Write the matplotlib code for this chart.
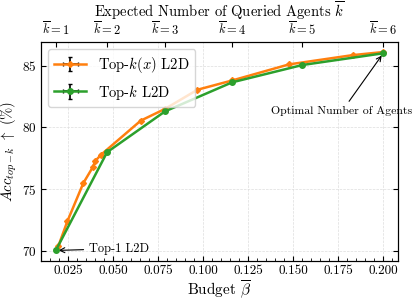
import numpy as np
import matplotlib
matplotlib.use("Agg")
import matplotlib.pyplot as plt

plt.rcParams.update({
    "font.family": "serif",
    "font.serif": ["cmr10"],
    "mathtext.fontset": "cm",
    "axes.formatter.use_mathtext": True,
    "xtick.direction": "in",
    "ytick.direction": "in",
    "xtick.top": True,
    "ytick.right": True,
    "xtick.minor.visible": True,
    "ytick.minor.visible": True,
})

# Top-k(x) L2D
budget_topkx = [0.0194, 0.0244, 0.0333, 0.0386, 0.0400, 0.0432, 0.0652,
                0.0787, 0.0967, 0.1160, 0.1476, 0.1830, 0.2000]
acc_topkx = [70.4, 72.4, 75.5, 76.8, 77.3, 77.8, 80.55,
             81.5, 83.05, 83.8, 85.1, 85.85, 86.1]

# Top-k L2D
budget_topk = [0.0180, 0.0465, 0.0787, 0.1160, 0.1550, 0.2000]
acc_topk = [70.05, 78.0, 81.3, 83.65, 85.05, 86.0]

k_labels = [r"$\overline{k}=%d$" % k for k in range(1, 7)]

fig = plt.figure(figsize=(4.19, 3.01), dpi=100)
ax = fig.add_axes([0.098, 0.133, 0.852, 0.727])

ax.errorbar(budget_topkx, acc_topkx, xerr=0.0002, yerr=0.02, color="#ff7f0e",
            ecolor="k", elinewidth=1.2, capsize=1.5, lw=1.8,
            marker="D", ms=3, label=r"Top-$k(x)$ L2D", zorder=3)
ax.errorbar(budget_topk, acc_topk, xerr=0.0002, yerr=0.02, color="#2ca02c",
            ecolor="k", elinewidth=1.2, capsize=1.5, lw=1.8,
            marker="o", ms=4, label=r"Top-$k$ L2D", zorder=3)

ax.set_xlim(0.0098, 0.2082)
ax.set_ylim(69.2, 86.9)
ax.set_xticks([0.025, 0.05, 0.075, 0.1, 0.125, 0.15, 0.175, 0.2])
ax.set_xticklabels(["0.025", "0.050", "0.075", "0.100", "0.125", "0.150", "0.175", "0.200"])
ax.set_yticks([70, 75, 80, 85])
ax.xaxis.set_minor_locator(matplotlib.ticker.MultipleLocator(0.005))
ax.yaxis.set_minor_locator(matplotlib.ticker.MultipleLocator(1))
ax.tick_params(labelsize=9.5, pad=3)
ax.grid(True, ls="--", lw=0.5, color="#dddddd")
ax.set_xlabel(r"Budget $\overline{\beta}$", fontsize=11, labelpad=1)
ax.set_ylabel(r"$Acc_{top-k}$ $\uparrow$ (%)", fontsize=10.5, labelpad=2)

ax2 = ax.twiny()
ax2.set_xlim(ax.get_xlim())
ax2.set_xticks(budget_topk)
ax2.set_xticklabels(k_labels, fontsize=9)
ax2.minorticks_off()
ax2.tick_params(pad=3)
ax2.set_xlabel(r"Expected Number of Queried Agents $\overline{k}$", fontsize=10.5, labelpad=3)

ax.annotate("Top-1 L2D", xy=(budget_topk[0], acc_topk[0]), xytext=(0.0365, 70.2),
            fontsize=9, va="center",
            arrowprops=dict(arrowstyle="->", color="k", lw=0.8))
ax.annotate("Optimal Number of Agents", xy=(budget_topk[-1], acc_topk[-1]),
            xytext=(0.177, 81.3), fontsize=8.5, ha="center", va="center",
            annotation_clip=False,
            arrowprops=dict(arrowstyle="->", color="k", lw=0.8))

ax.legend(loc="upper left", fontsize=10.5, frameon=True, fancybox=True,
          edgecolor="#cccccc", handlelength=2.2)

fig.savefig("out.png", dpi=100)
